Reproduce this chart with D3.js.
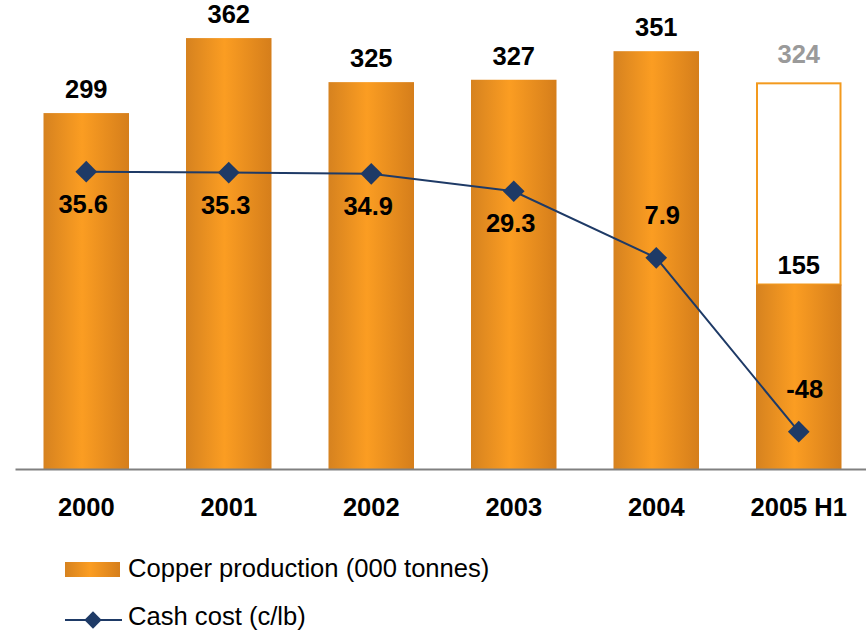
<!DOCTYPE html>
<html>
<head>
<meta charset="utf-8">
<script src="https://cdn.jsdelivr.net/npm/d3@7"></script>
<style>
  html, body { margin: 0; padding: 0; background: #ffffff; }
  svg { display: block; font-family: "Liberation Sans", Arial, sans-serif; }
</style>
</head>
<body>
<svg id="chart" width="866" height="630"></svg>
<script>
// Years shown along the axis
const years = ["2000", "2001", "2002", "2003", "2004", "2005 H1"];
// Copper production, thousand tonnes
const production = [299, 362, 325, 327, 351, 155];
// Full-year figure for the last period (outlined box)
const projectedLast = 324;
// Cash cost, US cents per pound
const cashCost = [35.6, 35.3, 34.9, 29.3, 7.9, -48];
// Where each cash-cost label sits relative to its marker
const costLabelSide = ["below", "below", "below", "below", "above", "above"];
// Legend entries
const legendLabels = ["Copper production (000 tonnes)", "Cash cost (c/lb)"];

const svg = d3.select("#chart");
const baseY = 469;
const labelSize = 25.5;

const x = d3.scaleBand()
  .domain(years)
  .range([15, 870])
  .paddingInner(0.4)
  .paddingOuter(0.2);

const yBar = d3.scaleLinear().domain([0, 394]).range([baseY, 0]);
const yCost = d3.scaleLinear().domain([-60, 40]).range([baseY, 158]);

// Horizontal shaded fill for the bars
const defs = svg.append("defs");
const grad = defs.append("linearGradient")
  .attr("id", "barFill")
  .attr("x1", 0).attr("x2", 1).attr("y1", 0).attr("y2", 0);
grad.append("stop").attr("offset", "0%").attr("stop-color", "#D6821F");
grad.append("stop").attr("offset", "45%").attr("stop-color", "#FB9D22");
grad.append("stop").attr("offset", "100%").attr("stop-color", "#D57E1B");

const navy = "#1E3A66";

// Outlined box for the full-year figure of the last period
const last = years[years.length - 1];
svg.append("rect")
  .attr("x", x(last) + 1)
  .attr("y", yBar(projectedLast))
  .attr("width", x.bandwidth() - 2)
  .attr("height", yBar(production[production.length - 1]) - yBar(projectedLast))
  .attr("fill", "#ffffff")
  .attr("stroke", "#F39A1E")
  .attr("stroke-width", 2);

// Production bars
svg.append("g").selectAll("rect")
  .data(years)
  .join("rect")
  .attr("x", d => x(d))
  .attr("y", (d, i) => yBar(production[i]))
  .attr("width", x.bandwidth())
  .attr("height", (d, i) => baseY - yBar(production[i]))
  .attr("fill", "url(#barFill)");

// Production labels above each bar
svg.append("g").selectAll("text")
  .data(years)
  .join("text")
  .attr("x", d => x(d) + x.bandwidth() / 2)
  .attr("y", (d, i) => yBar(production[i]) - (i === years.length - 1 ? 10 : 15))
  .attr("text-anchor", "middle")
  .attr("font-size", labelSize)
  .attr("font-weight", "bold")
  .attr("fill", "#000")
  .text((d, i) => production[i]);

svg.append("text")
  .attr("x", x(last) + x.bandwidth() / 2)
  .attr("y", yBar(projectedLast) - 20)
  .attr("text-anchor", "middle")
  .attr("font-size", labelSize)
  .attr("font-weight", "bold")
  .attr("fill", "#9A9A9A")
  .text(projectedLast);

// Category axis
const axis = svg.append("g")
  .attr("transform", `translate(0,${baseY})`)
  .call(d3.axisBottom(x).tickSize(0).tickSizeOuter(0).tickPadding(0));
axis.select(".domain").attr("stroke", "#808080").attr("stroke-width", 2);
axis.selectAll("text")
  .attr("font-family", "Liberation Sans, Arial, sans-serif")
  .attr("font-size", labelSize)
  .attr("font-weight", "bold")
  .attr("fill", "#000")
  .attr("dy", 0)
  .attr("y", 47);

// Cash cost line
const cx = (d, i) => x(years[i]) + x.bandwidth() / 2;
const line = d3.line()
  .x((d, i) => cx(d, i))
  .y(d => yCost(d));

svg.append("path")
  .datum(cashCost)
  .attr("d", line)
  .attr("fill", "none")
  .attr("stroke", navy)
  .attr("stroke-width", 2);

const diamond = d3.symbol().type(d3.symbolSquare).size(235);
svg.append("g").selectAll("path")
  .data(cashCost)
  .join("path")
  .attr("d", diamond)
  .attr("transform", (d, i) => `translate(${cx(d, i)},${yCost(d)}) rotate(45)`)
  .attr("fill", navy);

svg.append("g").selectAll("text")
  .data(cashCost)
  .join("text")
  .attr("x", (d, i) => cx(d, i) + (costLabelSide[i] === "below" ? -3 : 6))
  .attr("y", (d, i) => yCost(d) + (costLabelSide[i] === "below" ? 41 : -34))
  .attr("text-anchor", "middle")
  .attr("font-size", labelSize)
  .attr("font-weight", "bold")
  .attr("fill", "#000")
  .text(d => d);

// Legend
const legend = svg.append("g");
legend.append("rect")
  .attr("x", 65).attr("y", 562)
  .attr("width", 55).attr("height", 15)
  .attr("fill", "url(#barFill)");
legend.append("text")
  .attr("x", 128).attr("y", 577)
  .attr("font-size", 25.6)
  .attr("fill", "#000")
  .text(legendLabels[0]);

legend.append("line")
  .attr("x1", 65).attr("x2", 122)
  .attr("y1", 620).attr("y2", 620)
  .attr("stroke", navy).attr("stroke-width", 2);
legend.append("path")
  .attr("d", d3.symbol().type(d3.symbolSquare).size(150))
  .attr("transform", "translate(93,620) rotate(45)")
  .attr("fill", navy);
legend.append("text")
  .attr("x", 128).attr("y", 625)
  .attr("font-size", 25.6)
  .attr("fill", "#000")
  .text(legendLabels[1]);
</script>
</body>
</html>
